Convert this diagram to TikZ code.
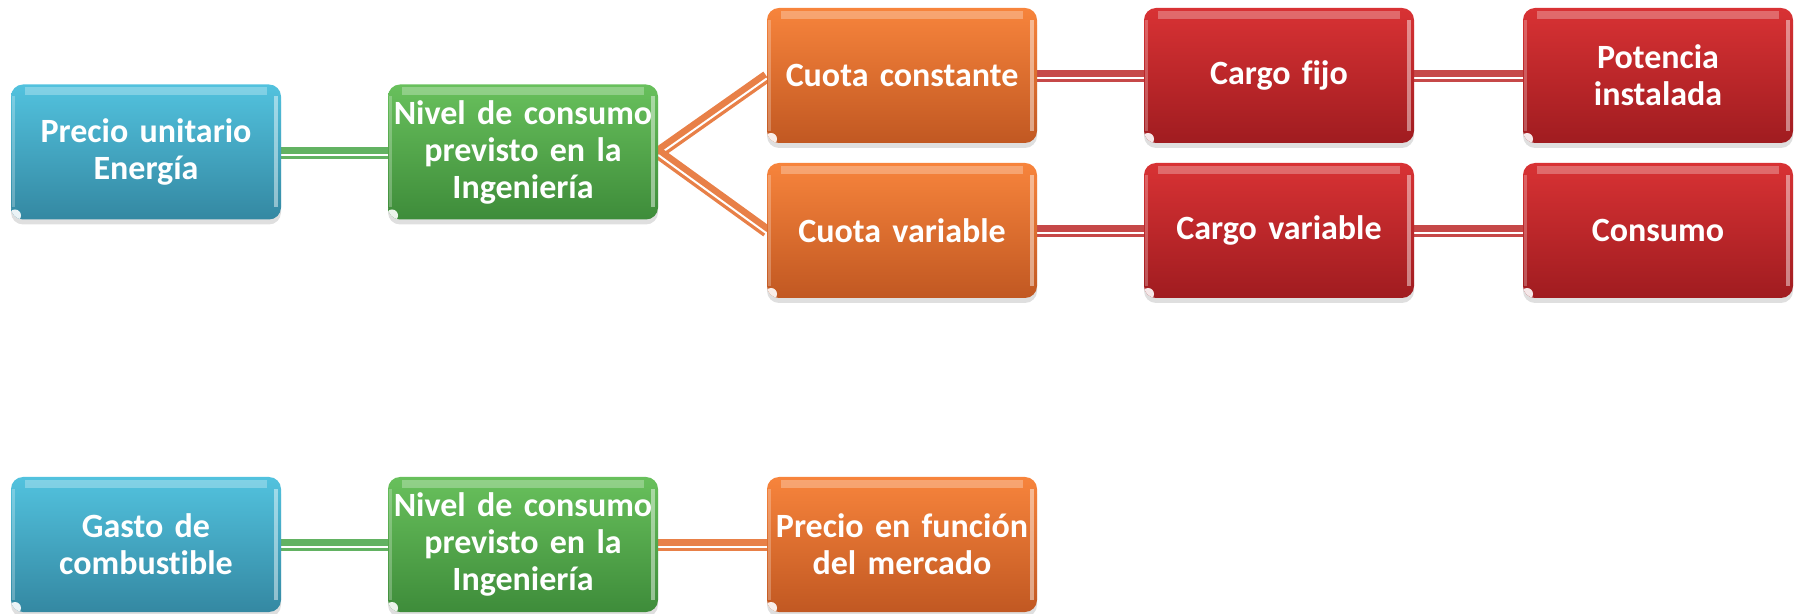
\documentclass[tikz,border=0pt]{standalone}
\usepackage{fontspec}
\setmainfont{Carlito}[Ligatures=NoCommon,WordSpace=0.8]
\usetikzlibrary{shadows,backgrounds}
\definecolor{bluetop}{RGB}{82,194,222}
\definecolor{bluebot}{RGB}{52,136,162}
\definecolor{greentop}{RGB}{104,192,92}
\definecolor{greenbot}{RGB}{62,140,58}
\definecolor{orangetop}{RGB}{247,132,60}
\definecolor{orangebot}{RGB}{193,88,34}
\definecolor{redtop}{RGB}{216,50,52}
\definecolor{redbot}{RGB}{160,28,32}
\definecolor{greenconn}{RGB}{98,178,98}
\definecolor{orangeconn}{RGB}{232,128,72}
\definecolor{redconn}{RGB}{198,72,72}
\tikzset{
  cbox/.style 2 args={rounded corners=12pt, minimum width=270pt, minimum height=135pt,
    text width=264pt, align=center, inner sep=0pt, text=white,
    font=\bfseries\fontsize{34pt}{37pt}\selectfont,
    top color=#1, bottom color=#2,
    drop shadow={shadow xshift=0pt, shadow yshift=-5pt, opacity=0.25},
    path picture={
      \fill[white,opacity=0.28,sharp corners] ([xshift=14pt,yshift=-3pt]path picture bounding box.north west)
        rectangle ([xshift=-14pt,yshift=-11pt]path picture bounding box.north east);
      \fill[white,opacity=0.45,sharp corners] ([xshift=-7pt,yshift=-12pt]path picture bounding box.north east)
        rectangle ([xshift=-3pt,yshift=12pt]path picture bounding box.south east);
      \fill[white,opacity=0.25,sharp corners] ([xshift=1pt,yshift=-12pt]path picture bounding box.north west)
        rectangle ([xshift=4pt,yshift=12pt]path picture bounding box.south west);
      \fill[white,opacity=0.9] ([xshift=4pt,yshift=4pt]path picture bounding box.south west) circle (6pt);
    }},
  bluebox/.style={cbox={bluetop}{bluebot}},
  greenbox/.style={cbox={greentop}{greenbot}},
  orangebox/.style={cbox={orangetop}{orangebot}},
  redbox/.style={cbox={redtop}{redbot}},
  conn/.style={line width=12pt, transform canvas={yshift=-1pt}},
  connhl/.style={white, line width=2pt, transform canvas={yshift=-3pt}}
}
\begin{document}
\begin{tikzpicture}[x=1pt,y=1pt]
\useasboundingbox (0,0) rectangle (1801,613);
\node[bluebox]   (b1) at (146,461)    {Precio unitario\\Energía};
\node[greenbox]  (g1) at (523,461)    {Nivel de consumo\\previsto en la\\Ingeniería};
\node[orangebox] (o1) at (902,537.5)  {Cuota constante};
\node[orangebox] (o2) at (902,382.5)  {Cuota variable};
\node[redbox]    (r1) at (1279,537.5) {Cargo fijo};
\node[redbox]    (r2) at (1279,382.5) {Cargo variable};
\node[redbox]    (r3) at (1658,537.5) {Potencia\\instalada};
\node[redbox]    (r4) at (1658,382.5) {Consumo};
\node[bluebox]   (b2) at (146,68.5)   {Gasto de\\combustible};
\node[greenbox]  (g2) at (523,68.5)   {Nivel de consumo\\previsto en la\\Ingeniería};
\node[orangebox] (o3) at (902,68.5)   {Precio en función\\del mercado};
\begin{pgfonlayer}{background}
\draw[conn,greenconn] (b1.east) -- (g1.west);
\draw[connhl] (b1.east) -- (g1.west);
\draw[conn,orangeconn] (g1.east) -- (o1.west);
\draw[connhl] (g1.east) -- (o1.west);
\draw[conn,orangeconn] (g1.east) -- (o2.west);
\draw[connhl] (g1.east) -- (o2.west);
\draw[conn,redconn] (o1.east) -- (r1.west);
\draw[connhl] (o1.east) -- (r1.west);
\draw[conn,redconn] (o2.east) -- (r2.west);
\draw[connhl] (o2.east) -- (r2.west);
\draw[conn,redconn] (r1.east) -- (r3.west);
\draw[connhl] (r1.east) -- (r3.west);
\draw[conn,redconn] (r2.east) -- (r4.west);
\draw[connhl] (r2.east) -- (r4.west);
\draw[conn,greenconn] (b2.east) -- (g2.west);
\draw[connhl] (b2.east) -- (g2.west);
\draw[conn,orangeconn] (g2.east) -- (o3.west);
\draw[connhl] (g2.east) -- (o3.west);
\end{pgfonlayer}
\end{tikzpicture}
\end{document}
